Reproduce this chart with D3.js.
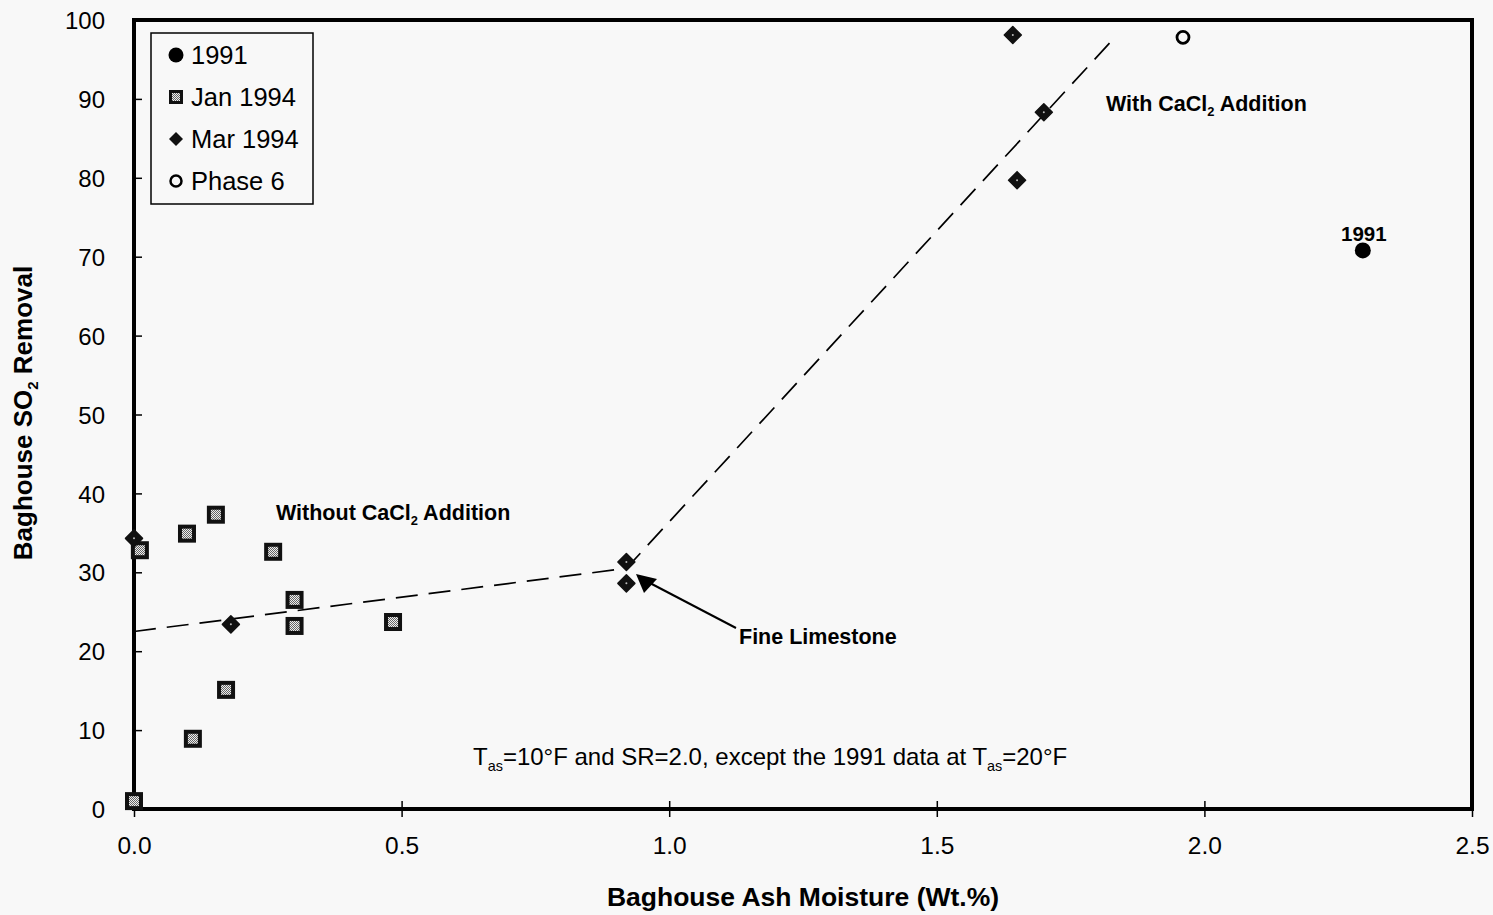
<!DOCTYPE html>
<html>
<head>
<meta charset="utf-8">
<script src="https://cdn.jsdelivr.net/npm/d3@7"></script>
<style>
  html, body { margin: 0; padding: 0; background: #f8f8f8; }
  svg { display: block; font-family: "Liberation Sans", Arial, sans-serif; }
</style>
</head>
<body>
<svg id="chart" width="1493" height="915"></svg>
<script>
// Baghouse SO2 removal vs. ash moisture
const xTicks = [0, 0.5, 1.0, 1.5, 2.0, 2.5];
const yTicks = [0, 10, 20, 30, 40, 50, 60, 70, 80, 90, 100];

const s1991X = [2.296];
const s1991Y = [70.8];

const jan1994X = [0.011, 0.099, 0.153, 0.26, 0.30, 0.30, 0.484, 0.172, 0.110, 0.0];
const jan1994Y = [32.8, 34.9, 37.3, 32.6, 26.5, 23.2, 23.7, 15.1, 8.9, 1.0];

const mar1994X = [0.0, 0.181, 0.92, 0.92, 1.642, 1.70, 1.65];
const mar1994Y = [34.3, 23.4, 31.3, 28.6, 98.1, 88.3, 79.7];

const phase6X = [1.96];
const phase6Y = [97.8];

// hand-drawn trend line through the two regimes
const trendX = [0, 0.92, 1.83];
const trendY = [22.5, 30.5, 97.6];

const svg = d3.select("#chart");
const plotLeft = 134, plotRight = 1472, plotTop = 20, plotBottom = 809;

const x = d3.scaleLinear().domain([0, 2.5]).range([plotLeft, plotRight]);
const y = d3.scaleLinear().domain([0, 100]).range([plotBottom, plotTop]);

// pattern for the grey stippled interior of the squares
const defs = svg.append("defs");
const pat = defs.append("pattern").attr("id", "stipple")
  .attr("width", 2).attr("height", 2).attr("patternUnits", "userSpaceOnUse");
pat.append("rect").attr("width", 2).attr("height", 2).attr("fill", "#eee");
pat.append("rect").attr("width", 1).attr("height", 1).attr("fill", "#666");
pat.append("rect").attr("x", 1).attr("y", 1).attr("width", 1).attr("height", 1).attr("fill", "#666");

// axes (ticks cross the frame)
const xAxis = d3.axisBottom(x).tickValues(xTicks).tickFormat(d3.format(".1f"))
  .tickSizeInner(8).tickSizeOuter(0).tickPadding(20);
const gx = svg.append("g").attr("transform", `translate(0,${plotBottom})`).call(xAxis);
gx.select(".domain").remove();
gx.selectAll(".tick line").attr("y1", -8).attr("stroke", "#000").attr("stroke-width", 1.5);
gx.selectAll(".tick text").attr("font-size", 24.5).attr("fill", "#000")
  .attr("font-family", "'Liberation Sans', Arial, sans-serif");

const yAxis = d3.axisLeft(y).tickValues(yTicks).tickFormat(d3.format("d"))
  .tickSizeInner(7).tickSizeOuter(0).tickPadding(22);
const gy = svg.append("g").attr("transform", `translate(${plotLeft},0)`).call(yAxis);
gy.select(".domain").remove();
gy.selectAll(".tick line").attr("x2", 8).attr("stroke", "#000").attr("stroke-width", 1.5);
gy.selectAll(".tick text").attr("font-size", 24).attr("fill", "#000")
  .attr("font-family", "'Liberation Sans', Arial, sans-serif").attr("dy", "0.36em");

// frame
svg.append("rect").attr("x", plotLeft).attr("y", plotTop)
  .attr("width", plotRight - plotLeft).attr("height", plotBottom - plotTop)
  .attr("fill", "none").attr("stroke", "#000").attr("stroke-width", 4);

// trend line
const line = d3.line().x(d => x(d[0])).y(d => y(d[1]));
svg.append("path").datum(d3.zip(trendX, trendY))
  .attr("d", line).attr("fill", "none").attr("stroke", "#000")
  .attr("stroke-width", 1.7).attr("stroke-dasharray", "22,11");

// markers
function squares(g, xs, ys, size) {
  const data = d3.zip(xs, ys);
  g.selectAll("rect.outer").data(data).join("rect").attr("class", "outer")
    .attr("x", d => x(d[0]) - size / 2).attr("y", d => y(d[1]) - size / 2)
    .attr("width", size).attr("height", size).attr("fill", "#111");
  g.selectAll("rect.inner").data(data).join("rect").attr("class", "inner")
    .attr("x", d => x(d[0]) - size / 2 + 4).attr("y", d => y(d[1]) - size / 2 + 4)
    .attr("width", size - 8).attr("height", size - 8).attr("fill", "url(#stipple)");
}
function diamonds(g, xs, ys, r) {
  const data = d3.zip(xs, ys);
  g.selectAll("path").data(data).join("path")
    .attr("d", d => `M${x(d[0])},${y(d[1]) - r}L${x(d[0]) + r},${y(d[1])}L${x(d[0])},${y(d[1]) + r}L${x(d[0]) - r},${y(d[1])}Z`)
    .attr("fill", "#111").attr("stroke", "#111").attr("stroke-width", 1.5).attr("stroke-linejoin", "round");
  g.selectAll("circle").data(data).join("circle")
    .attr("cx", d => x(d[0])).attr("cy", d => y(d[1])).attr("r", 1).attr("fill", "#bbb");
}

squares(svg.append("g"), jan1994X, jan1994Y, 18);
diamonds(svg.append("g"), mar1994X, mar1994Y, 8.5);

svg.append("g").selectAll("circle").data(d3.zip(s1991X, s1991Y)).join("circle")
  .attr("cx", d => x(d[0])).attr("cy", d => y(d[1])).attr("r", 8).attr("fill", "#000");
svg.append("g").selectAll("circle").data(d3.zip(phase6X, phase6Y)).join("circle")
  .attr("cx", d => x(d[0])).attr("cy", d => y(d[1])).attr("r", 6)
  .attr("fill", "none").attr("stroke", "#000").attr("stroke-width", 2.8);

// text with subscripts; the part after a subscript is shifted back up
function subLabel(px, py, parts, size, weight, anchor) {
  const t = svg.append("text").attr("x", px).attr("y", py)
    .attr("font-size", size).attr("font-weight", weight).attr("fill", "#000")
    .attr("text-anchor", anchor || "start");
  const shift = size * 0.25;
  let lowered = false;
  parts.forEach(p => {
    const ts = t.append("tspan").text(p.t);
    if (p.sub) {
      ts.attr("font-size", size * 0.6).attr("dy", lowered ? 0 : shift);
      lowered = true;
    } else if (lowered) {
      ts.attr("dy", -shift);
      lowered = false;
    }
  });
  return t;
}

subLabel(276, 520, [{t: "Without CaCl"}, {t: "2", sub: true}, {t: " Addition"}], 21.5, "bold");
subLabel(1106, 111, [{t: "With CaCl"}, {t: "2", sub: true}, {t: " Addition"}], 21.5, "bold");
svg.append("text").attr("x", x(s1991X[0]) + 1).attr("y", 241).attr("text-anchor", "middle")
  .attr("font-size", 20.5).attr("font-weight", "bold").text("1991");
svg.append("text").attr("x", 739).attr("y", 644).attr("font-size", 21.5)
  .attr("font-weight", "bold").text("Fine Limestone");

// arrow to the fine limestone points
svg.append("line").attr("x1", 736).attr("y1", 628).attr("x2", 648).attr("y2", 582)
  .attr("stroke", "#000").attr("stroke-width", 2);
svg.append("path").attr("d", "M636,574 L657,579 L644,593 Z").attr("fill", "#000");

subLabel(473, 765, [{t: "T"}, {t: "as", sub: true}, {t: "=10°F and SR=2.0, except the 1991 data at T"},
  {t: "as", sub: true}, {t: "=20°F"}], 24, "normal");

// axis titles
svg.append("text").attr("x", 803).attr("y", 906).attr("text-anchor", "middle")
  .attr("font-size", 26.5).attr("font-weight", "bold").text("Baghouse Ash Moisture (Wt.%)");
const yt = svg.append("text").attr("transform", "translate(32,413) rotate(-90)")
  .attr("text-anchor", "middle").attr("font-size", 26).attr("font-weight", "bold");
yt.append("tspan").text("Baghouse SO");
yt.append("tspan").attr("font-size", 15).attr("dy", 6).text("2");
yt.append("tspan").attr("dy", -6).text(" Removal");

// legend
const lg = svg.append("g");
lg.append("rect").attr("x", 151).attr("y", 33).attr("width", 162).attr("height", 171)
  .attr("fill", "#f8f8f8").attr("stroke", "#000").attr("stroke-width", 1.5);
const legendNames = ["1991", "Jan 1994", "Mar 1994", "Phase 6"];
legendNames.forEach((name, i) => {
  const cy = 55 + i * 42;
  if (i === 0) lg.append("circle").attr("cx", 176).attr("cy", cy).attr("r", 7.5).attr("fill", "#000");
  if (i === 1) {
    lg.append("rect").attr("x", 169).attr("y", cy - 7).attr("width", 14).attr("height", 14).attr("fill", "#111");
    lg.append("rect").attr("x", 172).attr("y", cy - 4).attr("width", 8).attr("height", 8).attr("fill", "url(#stipple)");
  }
  if (i === 2) lg.append("path").attr("d", `M176,${cy - 7}L183,${cy}L176,${cy + 7}L169,${cy}Z`).attr("fill", "#111");
  if (i === 3) lg.append("circle").attr("cx", 176).attr("cy", cy).attr("r", 5.5)
    .attr("fill", "none").attr("stroke", "#000").attr("stroke-width", 2.5);
  lg.append("text").attr("x", 191).attr("y", cy + 9).attr("font-size", 25.5).text(name);
});
</script>
</body>
</html>
